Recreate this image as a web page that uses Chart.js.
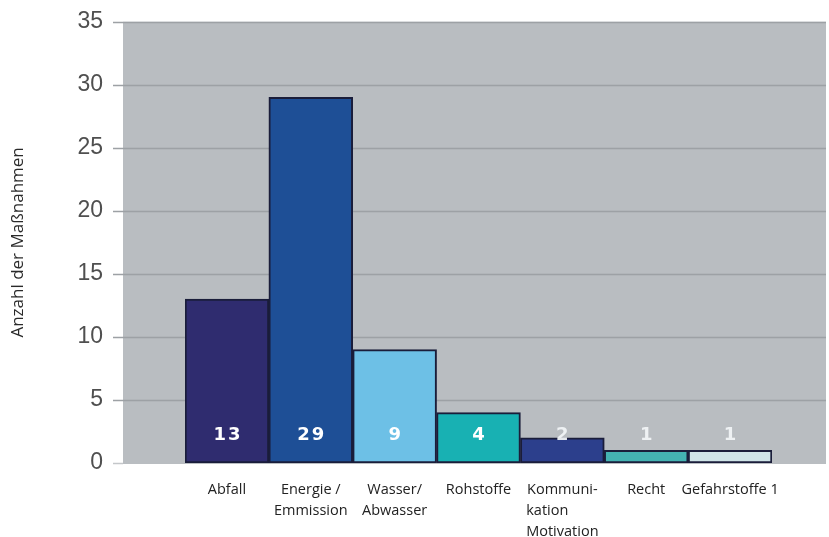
<!DOCTYPE html>
<html>
<head>
<meta charset="utf-8">
<script src="https://cdn.jsdelivr.net/npm/chart.js@4.4.1/dist/chart.umd.min.js"></script>
<style>
  html, body { margin: 0; padding: 0; background: #ffffff; }
  #wrap { width: 829px; height: 537px; position: relative; }
</style>
</head>
<body>
<div id="wrap"><canvas id="c" width="829" height="537"></canvas></div>
<script>
// ---- data ----
const categories = [
  ['Abfall'],
  ['Energie /', 'Emmission'],
  ['Wasser/', 'Abwasser'],
  ['Rohstoffe'],
  ['Kommuni-', 'kation', 'Motivation'],
  ['Recht'],
  ['Gefahrstoffe 1']
];
const values = [13, 29, 9, 4, 2, 1, 1];
const barColors = ['#2f2c6f', '#1e4f96', '#6dc0e6', '#18b1b3', '#2c3f8c', '#44b2b2', '#cfe4e7'];
const yTicks = [0, 5, 10, 15, 20, 25, 30, 35];
const yTitle = 'Anzahl der Maßnahmen';

const NB = '\u00a0';

const plotBg = {
  id: 'plotBg',
  beforeDatasetsDraw(chart) {
    const ctx = chart.ctx, y = chart.scales.y;
    const top = y.getPixelForValue(yTicks[yTicks.length - 1]);
    const bottom = y.getPixelForValue(0);
    ctx.save();
    ctx.fillStyle = '#b9bdc1';
    ctx.fillRect(123, top, 703, bottom - top + 1);
    ctx.strokeStyle = '#9da1a5';
    ctx.lineWidth = 1.5;
    yTicks.forEach(v => {
      if (v === 0) return;
      const py = Math.round(y.getPixelForValue(v)) + 0.5;
      ctx.beginPath();
      ctx.moveTo(113, py);
      ctx.lineTo(826, py);
      ctx.stroke();
    });
    ctx.strokeStyle = '#c4c7ca';
    ctx.beginPath();
    ctx.moveTo(113, Math.round(bottom) + 0.5);
    ctx.lineTo(123, Math.round(bottom) + 0.5);
    ctx.stroke();
    ctx.restore();
  }
};

const valueLabels = {
  id: 'valueLabels',
  afterDatasetsDraw(chart) {
    const ctx = chart.ctx, y = chart.scales.y;
    const meta = chart.getDatasetMeta(0);
    const base = y.getPixelForValue(0);
    ctx.save();
    ctx.font = 'bold 18px "DejaVu Sans"';
    ctx.textAlign = 'center';
    ctx.textBaseline = 'middle';
    try { ctx.letterSpacing = '2px'; } catch (e) {}
    meta.data.forEach((bar, i) => {
      ctx.fillStyle = values[i] >= 4 ? '#ffffff' : 'rgba(240,243,246,0.95)';
      ctx.fillText(String(values[i]), bar.x + 1, base - 28);
    });
    ctx.restore();
  }
};

new Chart(document.getElementById('c'), {
  type: 'bar',
  data: {
    labels: categories,
    datasets: [{
      data: values,
      backgroundColor: barColors,
      borderColor: '#1a1d3a',
      borderWidth: 2,
      borderSkipped: false,
      categoryPercentage: 1.0,
      barPercentage: 1.0
    }]
  },
  options: {
    responsive: false,
    animation: false,
    devicePixelRatio: 1,
    layout: { padding: { top: 0, right: 57, left: 0, bottom: 0 } },
    plugins: { legend: { display: false }, tooltip: { enabled: false } },
    scales: {
      x: {
        offset: true,
        grid: { display: false, drawTicks: false },
        border: { display: false },
        afterFit(scale) { scale.height = 74; },
        ticks: {
          autoSkip: false,
          maxRotation: 0,
          padding: 17,
          color: '#222222',
          font: { family: '"Open Sans", sans-serif', size: 14.5, lineHeight: 1.42 },
          callback(value, index) {
            const lab = categories[index].slice();
            if (lab.length === 3) {
              lab[1] = lab[1] + NB.repeat(8);
            }
            return lab;
          }
        }
      },
      y: {
        min: 0,
        max: 35,
        afterFit(scale) { scale.width = 185; },
        grid: { display: false, drawTicks: true, tickLength: 74 },
        border: { display: false },
        ticks: {
          stepSize: 5,
          padding: 8,
          color: '#4f4f4f',
          font: { family: '"Liberation Sans", Arial, sans-serif', size: 23 }
        },
        title: {
          display: true,
          text: yTitle,
          color: '#2a2a2a',
          padding: { top: 8, bottom: 0 },
          font: { family: '"Open Sans", sans-serif', size: 17 }
        }
      }
    }
  },
  plugins: [plotBg, valueLabels]
});
</script>
</body>
</html>
